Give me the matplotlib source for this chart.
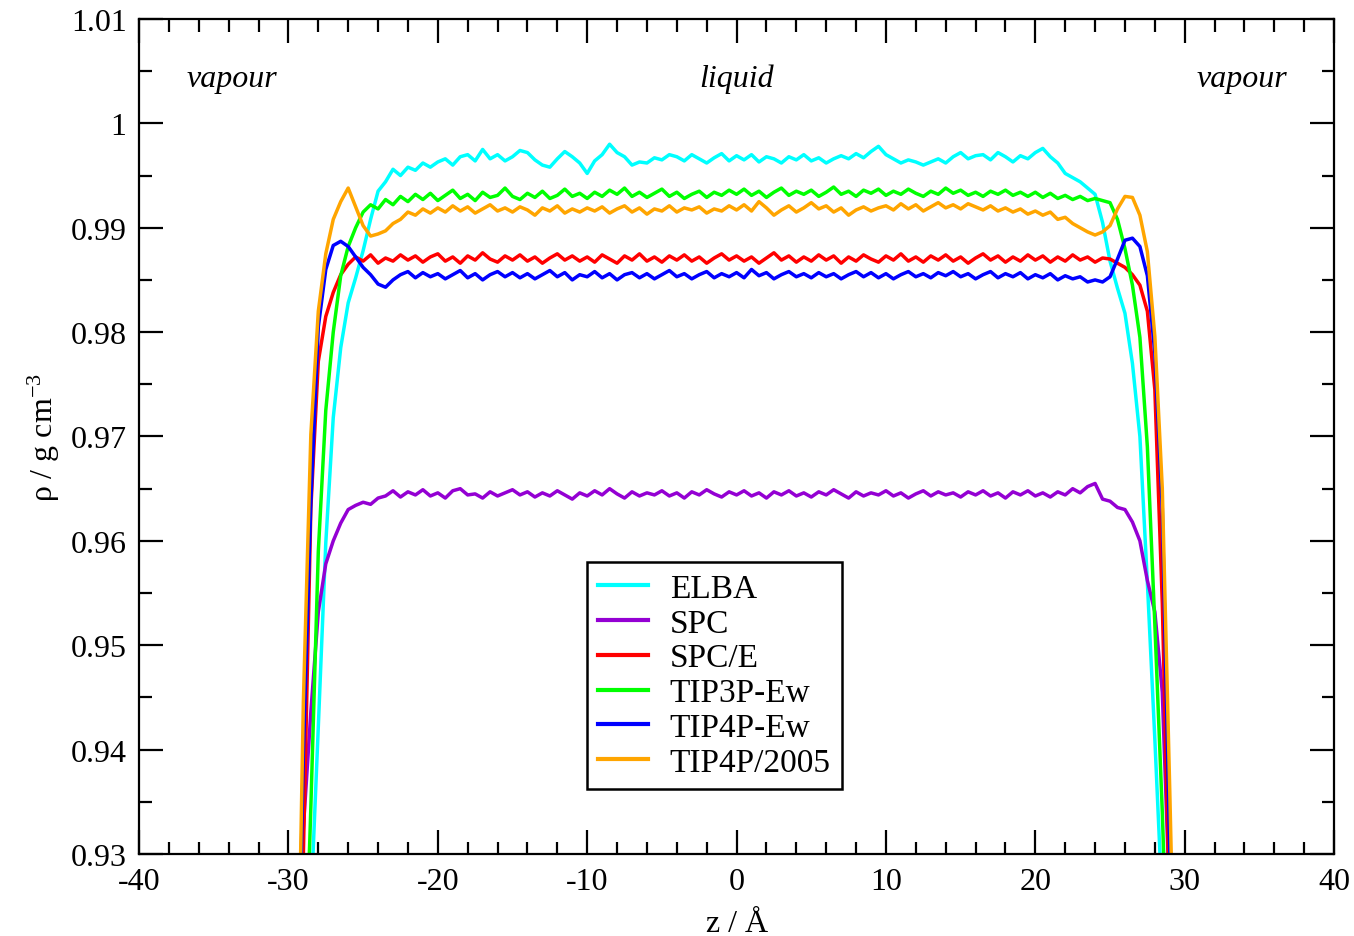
import numpy as np
import matplotlib
matplotlib.use("Agg")
import matplotlib.pyplot as plt
from matplotlib.ticker import FixedLocator, MultipleLocator, FuncFormatter

plt.rcParams['font.family'] = ['Liberation Serif', 'DejaVu Serif']
plt.rcParams['mathtext.fontset'] = 'custom'
plt.rcParams['mathtext.rm'] = 'Liberation Serif'
plt.rcParams['mathtext.default'] = 'regular'
plt.rcParams['axes.unicode_minus'] = False

# z grid (Angstrom), bins of 0.5 A from -30 to 30
Z = np.arange(-30.0, 30.25, 0.5)

ELBA = [
    0.872, 0.890, 0.907, 0.925, 0.9422, 0.9598, 0.9718, 0.9785, 0.9828, 0.9852,
    0.9878, 0.9908, 0.9935, 0.9944, 0.9956, 0.9950, 0.9958, 0.9955, 0.9962, 0.9958,
    0.9963, 0.9966, 0.9960, 0.9968, 0.9970, 0.9964, 0.9975, 0.9966, 0.9970, 0.9964,
    0.9968, 0.9974, 0.9972, 0.9965, 0.9960, 0.9958, 0.9966, 0.9973, 0.9968, 0.9962,
    0.9952, 0.9964, 0.9970, 0.9980, 0.9972, 0.9968, 0.9960, 0.9963, 0.9962, 0.9967,
    0.9965, 0.9970, 0.9968, 0.9964, 0.9970, 0.9966, 0.9962, 0.9967, 0.9971, 0.9964,
    0.9969, 0.9965, 0.9970, 0.9963, 0.9968, 0.9966, 0.9962, 0.9968, 0.9965, 0.9970,
    0.9964, 0.9967, 0.9962, 0.9966, 0.9969, 0.9966, 0.9971, 0.9967, 0.9973, 0.9978,
    0.9970, 0.9966, 0.9962, 0.9965, 0.9963, 0.9960, 0.9963, 0.9966, 0.9962, 0.9968,
    0.9972, 0.9966, 0.9969, 0.9970, 0.9965, 0.9972, 0.9968, 0.9963, 0.9969, 0.9966,
    0.9972, 0.9976, 0.9968, 0.9962, 0.9952, 0.9948, 0.9944, 0.9938, 0.9932, 0.9905,
    0.9868, 0.9842, 0.9818, 0.9770, 0.9700, 0.9560, 0.9410, 0.9250, 0.907, 0.890,
    0.872]

SPC = [
    0.905, 0.918, 0.9325, 0.9436, 0.9532, 0.9578, 0.9600, 0.9617, 0.9630, 0.9634,
    0.9637, 0.9635, 0.9641, 0.9643, 0.9648, 0.9642, 0.9647, 0.9644, 0.9649, 0.9643,
    0.9646, 0.9641, 0.9648, 0.9650, 0.9644, 0.9645, 0.9641, 0.9647, 0.9643, 0.9646,
    0.9649, 0.9644, 0.9647, 0.9642, 0.9646, 0.9643, 0.9648, 0.9644, 0.9640, 0.9646,
    0.9643, 0.9648, 0.9644, 0.9650, 0.9645, 0.9641, 0.9647, 0.9643, 0.9646, 0.9644,
    0.9648, 0.9643, 0.9646, 0.9641, 0.9647, 0.9644, 0.9649, 0.9645, 0.9642, 0.9647,
    0.9644, 0.9648, 0.9643, 0.9646, 0.9641, 0.9647, 0.9644, 0.9648, 0.9643, 0.9646,
    0.9642, 0.9647, 0.9644, 0.9649, 0.9645, 0.9641, 0.9647, 0.9643, 0.9646, 0.9644,
    0.9648, 0.9643, 0.9646, 0.9641, 0.9645, 0.9648, 0.9643, 0.9647, 0.9644, 0.9646,
    0.9642, 0.9647, 0.9644, 0.9648, 0.9643, 0.9646, 0.9641, 0.9647, 0.9644, 0.9648,
    0.9643, 0.9646, 0.9642, 0.9647, 0.9644, 0.9650, 0.9646, 0.9652, 0.9655, 0.9640,
    0.9638, 0.9632, 0.9630, 0.9618, 0.9600, 0.9562, 0.9532, 0.9455, 0.925, 0.905,
    0.885]

SPCE = [
    0.875, 0.900, 0.930, 0.9631, 0.9772, 0.9815, 0.9838, 0.9855, 0.9865, 0.9872,
    0.9868, 0.9874, 0.9866, 0.9871, 0.9868, 0.9874, 0.9869, 0.9873, 0.9867, 0.9872,
    0.9875, 0.9868, 0.9872, 0.9866, 0.9873, 0.9869, 0.9876, 0.9870, 0.9867, 0.9873,
    0.9869, 0.9874, 0.9868, 0.9872, 0.9866, 0.9871, 0.9875, 0.9869, 0.9873, 0.9868,
    0.9872, 0.9867, 0.9874, 0.9870, 0.9866, 0.9873, 0.9869, 0.9875, 0.9868, 0.9872,
    0.9867, 0.9873, 0.9869, 0.9874, 0.9868, 0.9872, 0.9866, 0.9871, 0.9875, 0.9869,
    0.9873, 0.9868, 0.9872, 0.9866, 0.9871, 0.9876, 0.9869, 0.9873, 0.9867, 0.9872,
    0.9868, 0.9874, 0.9869, 0.9873, 0.9866, 0.9872, 0.9868, 0.9874, 0.9870, 0.9867,
    0.9873, 0.9869, 0.9875, 0.9868, 0.9872, 0.9867, 0.9873, 0.9869, 0.9874, 0.9868,
    0.9872, 0.9866, 0.9871, 0.9875, 0.9869, 0.9873, 0.9867, 0.9872, 0.9868, 0.9874,
    0.9869, 0.9873, 0.9867, 0.9872, 0.9868, 0.9874, 0.9869, 0.9872, 0.9867, 0.9871,
    0.9870, 0.9866, 0.9862, 0.9855, 0.9845, 0.9820, 0.9745, 0.9540, 0.924, 0.895,
    0.870]

TIP3P_EW = [
    0.868, 0.887, 0.912, 0.9345, 0.9590, 0.9725, 0.9800, 0.9854, 0.9882, 0.9900,
    0.9915, 0.9922, 0.9918, 0.9927, 0.9922, 0.9930, 0.9925, 0.9932, 0.9927, 0.9933,
    0.9926, 0.9931, 0.9936, 0.9928, 0.9932, 0.9926, 0.9934, 0.9929, 0.9931, 0.9938,
    0.9930, 0.9927, 0.9933, 0.9929, 0.9935, 0.9928, 0.9931, 0.9937, 0.9930, 0.9933,
    0.9928, 0.9934, 0.9930, 0.9936, 0.9932, 0.9938, 0.9930, 0.9934, 0.9929, 0.9933,
    0.9937, 0.9930, 0.9934, 0.9928, 0.9932, 0.9935, 0.9929, 0.9934, 0.9931, 0.9936,
    0.9932, 0.9937, 0.9931, 0.9935, 0.9929, 0.9934, 0.9938, 0.9931, 0.9935, 0.9932,
    0.9936, 0.9930, 0.9934, 0.9939, 0.9932, 0.9935, 0.9930, 0.9936, 0.9933, 0.9937,
    0.9931, 0.9935, 0.9932, 0.9937, 0.9933, 0.9930, 0.9935, 0.9932, 0.9938, 0.9933,
    0.9936, 0.9931, 0.9934, 0.9930, 0.9935, 0.9932, 0.9936, 0.9931, 0.9934, 0.9930,
    0.9934, 0.9929, 0.9933, 0.9928, 0.9931, 0.9927, 0.9930, 0.9926, 0.9928, 0.9926,
    0.9924, 0.9908, 0.9880, 0.9845, 0.9795, 0.9690, 0.9520, 0.9340, 0.912, 0.890,
    0.868]

TIP4P_EW = [
    0.880, 0.905, 0.9396, 0.9637, 0.9805, 0.9860, 0.9883, 0.9887, 0.9882, 0.9872,
    0.9862, 0.9855, 0.9846, 0.9843, 0.9850, 0.9855, 0.9858, 0.9852, 0.9857, 0.9853,
    0.9856, 0.9851, 0.9855, 0.9859, 0.9852, 0.9856, 0.9850, 0.9855, 0.9858, 0.9853,
    0.9857, 0.9852, 0.9856, 0.9851, 0.9855, 0.9859, 0.9853, 0.9857, 0.9850, 0.9855,
    0.9853, 0.9858, 0.9852, 0.9856, 0.9850, 0.9855, 0.9857, 0.9852, 0.9856, 0.9851,
    0.9855, 0.9859, 0.9853, 0.9856, 0.9851, 0.9855, 0.9858, 0.9852, 0.9856, 0.9853,
    0.9857, 0.9852, 0.9860, 0.9854, 0.9857, 0.9851, 0.9855, 0.9858, 0.9853, 0.9856,
    0.9852, 0.9857, 0.9853, 0.9856, 0.9851, 0.9855, 0.9858, 0.9853, 0.9857, 0.9852,
    0.9856, 0.9851, 0.9855, 0.9858, 0.9853, 0.9856, 0.9852, 0.9857, 0.9854, 0.9858,
    0.9853, 0.9856, 0.9851, 0.9855, 0.9858, 0.9852, 0.9856, 0.9853, 0.9857, 0.9851,
    0.9855, 0.9852, 0.9856, 0.9850, 0.9854, 0.9851, 0.9853, 0.9848, 0.9850, 0.9848,
    0.9853, 0.9870, 0.9888, 0.9890, 0.9882, 0.9854, 0.9780, 0.9631, 0.930, 0.897,
    0.870]

TIP4P_2005 = [
    0.870, 0.905, 0.9446, 0.9702, 0.9820, 0.9875, 0.9908, 0.9925, 0.9938, 0.9920,
    0.9902, 0.9892, 0.9894, 0.9897, 0.9904, 0.9908, 0.9915, 0.9912, 0.9918, 0.9914,
    0.9919, 0.9915, 0.9921, 0.9916, 0.9920, 0.9914, 0.9918, 0.9922, 0.9916, 0.9919,
    0.9915, 0.9920, 0.9917, 0.9912, 0.9919, 0.9916, 0.9921, 0.9914, 0.9918, 0.9915,
    0.9919, 0.9916, 0.9920, 0.9914, 0.9918, 0.9921, 0.9915, 0.9919, 0.9913, 0.9918,
    0.9916, 0.9921, 0.9915, 0.9919, 0.9917, 0.9920, 0.9914, 0.9918, 0.9916, 0.9921,
    0.9917, 0.9922, 0.9916, 0.9925, 0.9919, 0.9912, 0.9917, 0.9921, 0.9915, 0.9919,
    0.9924, 0.9918, 0.9921, 0.9915, 0.9919, 0.9912, 0.9917, 0.9920, 0.9916, 0.9919,
    0.9921, 0.9917, 0.9923, 0.9918, 0.9922, 0.9916, 0.9920, 0.9924, 0.9919, 0.9922,
    0.9918, 0.9923, 0.9920, 0.9917, 0.9921, 0.9916, 0.9919, 0.9915, 0.9918, 0.9913,
    0.9916, 0.9912, 0.9915, 0.9908, 0.9910, 0.9904, 0.9900, 0.9896, 0.9893, 0.9896,
    0.9902, 0.9918, 0.9930, 0.9929, 0.9912, 0.9877, 0.9796, 0.9650, 0.936, 0.905,
    0.870]

labels = ["ELBA", "SPC", "SPC/E", "TIP3P-Ew", "TIP4P-Ew", "TIP4P/2005"]
series = [ELBA, SPC, SPCE, TIP3P_EW, TIP4P_EW, TIP4P_2005]
colors = ["#00FFFF", "#9400D3", "#FF0000", "#00FF00", "#0000FF", "#FFA500"]

x_ticks = [-40, -30, -20, -10, 0, 10, 20, 30, 40]
y_ticks = [0.93, 0.94, 0.95, 0.96, 0.97, 0.98, 0.99, 1.00, 1.01]

fig = plt.figure(figsize=(13.54, 9.37), dpi=100)
ax = fig.add_axes([0.1027, 0.0875, 0.8826, 0.8912])

for lab, vals, col in zip(labels, series, colors):
    assert len(vals) == len(Z), lab
    ax.plot(Z, vals, color=col, lw=2.5, label=lab)

ax.set_xlim(-40, 40)
ax.set_ylim(0.93, 1.01)
ax.xaxis.set_major_locator(FixedLocator(x_ticks))
ax.xaxis.set_minor_locator(MultipleLocator(2))
ax.yaxis.set_major_locator(FixedLocator(y_ticks))
ax.yaxis.set_minor_locator(MultipleLocator(0.005))
ax.yaxis.set_major_formatter(FuncFormatter(lambda v, p: "{:g}".format(round(v, 3))))
ax.xaxis.set_major_formatter(FuncFormatter(lambda v, p: "{:g}".format(v)))

ax.tick_params(which='both', direction='in', top=True, right=True, width=1.6, colors='black')
ax.tick_params(which='major', length=17, labelsize=23, pad=9)
ax.tick_params(which='minor', length=9)
for s in ax.spines.values():
    s.set_linewidth(1.6)

ax.set_xlabel("z / Å", fontsize=23, labelpad=10)
ax.set_ylabel("ρ / g cm$^{-3}$", fontsize=23, labelpad=6)

ax.text(-33.8, 1.0043, "vapour", fontsize=23, style='italic', ha='center', va='center')
ax.text(0, 1.0043, "liquid", fontsize=23, style='italic', ha='center', va='center')
ax.text(33.8, 1.0043, "vapour", fontsize=23, style='italic', ha='center', va='center')

leg = ax.legend(loc='lower left', bbox_to_anchor=(0.375, 0.078), fontsize=24,
                frameon=True, fancybox=False, edgecolor='black', framealpha=1,
                handlelength=1.5, handletextpad=0.65, labelspacing=0.13,
                borderpad=0.33, borderaxespad=0)
leg.get_frame().set_linewidth(1.8)
for h in leg.get_lines():
    h.set_linewidth(3)

fig.savefig("out.png", dpi=100)
